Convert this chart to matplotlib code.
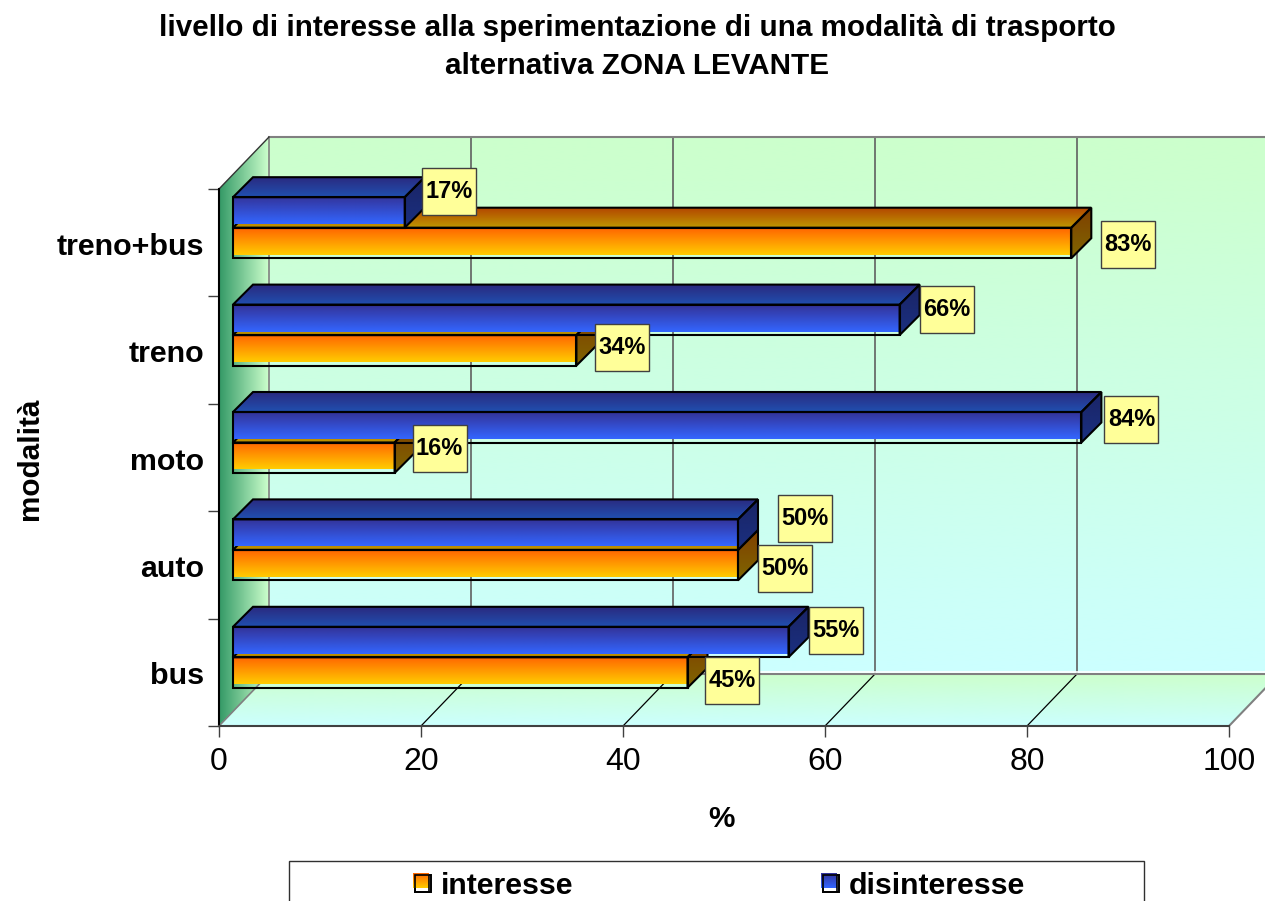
import matplotlib
matplotlib.use('Agg')
import matplotlib.pyplot as plt
import numpy as np
from matplotlib.colors import to_rgb
from matplotlib.patches import Polygon, Rectangle

plt.rcParams['font.family'] = ['Liberation Sans', 'DejaVu Sans']

categories = ['bus', 'auto', 'moto', 'treno', 'treno+bus']
interesse = [45, 50, 16, 34, 83]
disinteresse = [55, 50, 84, 66, 17]
x_ticks = [0, 20, 40, 60, 80, 100]
title = 'livello di interesse alla sperimentazione di una modalità di trasporto\nalternativa ZONA LEVANTE'

# label box offsets from the bar end, in pixels (x right, y up)
label_off_int = [(44.5, -8), (47, -3.5), (45, 9.5), (46, 3), (57, -1.5)]
label_off_dis = [(47.5, 12), (67, 16.5), (50, 8), (47, 10), (44.5, 21)]

W, H = 1265, 901
L, R, B, T = 219, 1229, 726, 189
PXX = (R - L) / 100
PXY = (B - T) / 5

fig = plt.figure(figsize=(W / 100, H / 100), dpi=100)
ax = fig.add_axes([L / W, 1 - B / H, (R - L) / W, (B - T) / H])
ax.set_autoscale_on(False)
ax.set_xlim(0, 100)
ax.set_ylim(0, 5)
ax.set_facecolor('none')


def xp(px):
    return (px - L) / PXX


def yp(py):
    return (B - py) / PXY


def grad(pts, c0, c1, z, horizontal=False):
    # gradient filled polygon, c0 = top (or left), c1 = bottom (or right)
    pts = np.array(pts, dtype=float)
    t = np.linspace(0, 1, 128)[:, None]
    rgb = (1 - t) * np.array(to_rgb(c0)) + t * np.array(to_rgb(c1))
    img = rgb[None, :, :] if horizontal else rgb[:, None, :]
    ext = (pts[:, 0].min(), pts[:, 0].max(), pts[:, 1].min(), pts[:, 1].max())
    im = ax.imshow(img, extent=ext, origin='upper', aspect='auto', zorder=z,
                   interpolation='bilinear')
    clip = Polygon(pts, closed=True, transform=ax.transData, fc='none', ec='none')
    im.set_clip_box(fig.bbox)
    im.set_clip_path(clip)
    ax.set_xlim(0, 100)
    ax.set_ylim(0, 5)


def outline(pts, z, color='black', lw=1.5):
    ax.add_patch(Polygon(pts, closed=True, fc='none', ec=color, lw=lw, zorder=z,
                         clip_on=False, joinstyle='miter'))


# walls
wx, wy = 50 / PXX, 52 / PXY
grad([(wx, wy), (100 + wx, wy), (100 + wx, 5 + wy), (wx, 5 + wy)], '#CCFFCC', '#CCFFFF', 1)
grad([(0, 0), (wx, wy), (100 + wx, wy), (100, 0)], '#CCFFCC', '#CCFFFF', 1)
grad([(0, 0), (wx, wy), (wx, 5 + wy), (0, 5)], '#339966', '#CCFFCC', 1, horizontal=True)

for v in x_ticks:
    if v > 0 and v < 100:
        ax.plot([v + wx, v + wx], [wy, 5 + wy], color='#606060', lw=1.2, zorder=2, clip_on=False)
        ax.plot([v, v + wx], [0, wy], color='black', lw=0.9, zorder=2, clip_on=False)
ax.plot([wx, 100 + wx], [wy, wy], color='#808080', lw=1.5, zorder=2, clip_on=False)
ax.plot([wx, 100 + wx], [wy + 2.2 / PXY] * 2, color='white', lw=1.2, zorder=2, clip_on=False)
ax.plot([wx, 100 + wx], [5 + wy, 5 + wy], color='#808080', lw=1.5, zorder=2, clip_on=False)
ax.plot([wx, wx], [wy, 5 + wy], color='#808080', lw=1.2, zorder=2, clip_on=False)
ax.plot([0, wx], [0, wy], color='#808080', lw=1.2, zorder=2, clip_on=False)
ax.plot([100, 100 + wx], [0, wy], color='#808080', lw=1.5, zorder=2, clip_on=False)
ax.plot([0, wx], [5, 5 + wy], color='#333333', lw=1, zorder=2, clip_on=False)

# bars
x0 = 14 / PXX
bar_h = 30.5 / PXY
dep_x, dep_y = 20 / PXX, 20 / PXY


def bar3d(v, y, front, top, side, z):
    x1 = x0 + v
    grad([(x0, y + bar_h), (x0 + dep_x, y + bar_h + dep_y), (x1 + dep_x, y + bar_h + dep_y), (x1, y + bar_h)],
         top[0], top[1], z)
    grad([(x1, y), (x1 + dep_x, y + dep_y), (x1 + dep_x, y + bar_h + dep_y), (x1, y + bar_h)],
         side[0], side[1], z)
    # the fill sits a little above and left of its outline
    fy = y + 3.5 / PXY
    fx = x0 - 1.5 / PXX
    grad([(fx, fy), (x1, fy), (x1, y + bar_h), (fx, y + bar_h)], front[0], front[1], z)
    outline([(x0, y + bar_h), (x0 + dep_x, y + bar_h + dep_y), (x1 + dep_x, y + bar_h + dep_y), (x1, y + bar_h)], z)
    outline([(x1, y), (x1 + dep_x, y + dep_y), (x1 + dep_x, y + bar_h + dep_y), (x1, y + bar_h)], z)
    outline([(x0, y), (x1, y), (x1, y + bar_h), (x0, y + bar_h)], z)


orange = (('#FF6600', '#FFCC00'), ('#B34700', '#BF9900'), ('#7F3F00', '#806600'))
blue = (('#333399', '#3366FF'), ('#2A2A80', '#2050B0'), ('#1A2466', '#1A3080'))

base = 38.2 / PXY
for i, cat in enumerate(categories):
    y_int = i + base
    y_dis = y_int + bar_h
    z = 10 + 2 * (len(categories) - i)
    bar3d(interesse[i], y_int, orange[0], orange[1], orange[2], z)
    bar3d(disinteresse[i], y_dis, blue[0], blue[1], blue[2], z + 1)

# value labels
box_w, box_h = 54 / PXX, 47 / PXY


def value_label(v, y, off):
    cx = x0 + v + off[0] / PXX
    cy = y + bar_h / 2 + off[1] / PXY
    ax.add_patch(Rectangle((cx - box_w / 2, cy - box_h / 2), box_w, box_h, fc='#FFFF99', ec='#404040',
                           lw=1, zorder=40, clip_on=False))
    ax.text(cx, cy, f'{v}%', ha='center', va='center', fontsize=17, fontweight='bold', zorder=41)


for i in range(len(categories)):
    value_label(interesse[i], i + base, label_off_int[i])
    value_label(disinteresse[i], i + base + bar_h, label_off_dis[i])

# axes
for s in ['top', 'right']:
    ax.spines[s].set_visible(False)
ax.spines['left'].set_linewidth(1.5)
ax.spines['bottom'].set_linewidth(1.5)
ax.spines['bottom'].set_color('#404040')
for s in ax.spines.values():
    s.set_zorder(3)
ax.set_xticks(x_ticks)
ax.set_xticklabels([str(v) for v in x_ticks], fontsize=23)
ax.set_yticks(range(len(categories) + 1))
ax.set_yticklabels([])
ax.set_yticks(np.arange(len(categories)) + 0.49, minor=True)
ax.set_yticklabels(categories, minor=True, fontsize=21.9, fontweight='bold')
ax.tick_params(axis='y', which='major', length=8, width=1, color='#404040')
ax.tick_params(axis='y', which='minor', length=0, pad=10.7)
ax.tick_params(axis='x', length=8, width=1, color='#404040', pad=7)

fig.text(637 / W, 1 - 47 / H, title, ha='center', va='center', fontsize=21.3, fontweight='bold', linespacing=1.42)
fig.text(721 / W, 1 - 819 / H, '%', ha='center', va='center', fontsize=21.4, fontweight='bold')
fig.text(30 / W, 1 - 459 / H, 'modalità', ha='center', va='center', rotation=90, fontsize=21.4, fontweight='bold')

# legend, its frame runs off the bottom of the figure
ax.add_patch(Rectangle((xp(289), yp(905)), (1144 - 289) / PXX, (905 - 861) / PXY, fc='white', ec='#303030',
                       lw=1, zorder=5, clip_on=False))
for sx, tx, name, cols in [(413, 441, 'interesse', orange[0]), (821, 849, 'disinteresse', blue[0])]:
    ax.add_patch(Rectangle((xp(sx + 2), yp(892)), 16 / PXX, 17 / PXY, fc='white', ec='black', lw=1.4,
                           zorder=6, clip_on=False))
    grad([(xp(sx), yp(888)), (xp(sx + 16), yp(888)), (xp(sx + 16), yp(873)), (xp(sx), yp(873))],
         cols[0], cols[1], 7)
    ax.add_patch(Rectangle((xp(sx + 2), yp(892)), 14 / PXX, 17 / PXY, fc='none', ec='black', lw=1.2,
                           zorder=8, clip_on=False))
    fig.text(tx / W, 1 - 885.5 / H, name, ha='left', va='center', fontsize=21.8, fontweight='bold')

fig.savefig('out.png', dpi=100)
